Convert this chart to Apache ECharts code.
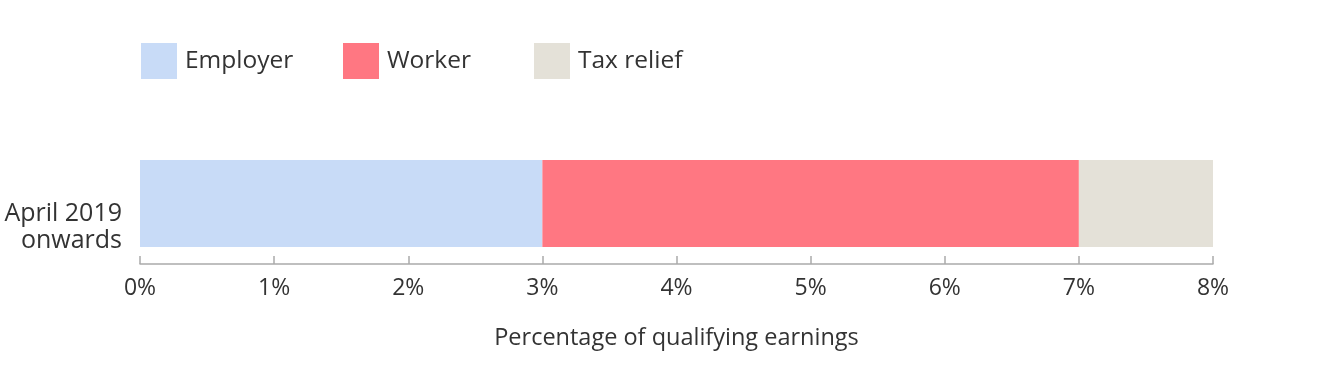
<!DOCTYPE html>
<html><head><meta charset="utf-8">
<script src="https://cdn.jsdelivr.net/npm/echarts@6/dist/echarts.min.js"></script>
<style>html,body{margin:0;padding:0;background:#fff}#c{width:1320px;height:381px}</style>
</head><body><div id="c"></div>
<script>
const categories = ['April 2019\nonwards'];
const seriesNames = ['Employer', 'Worker', 'Tax relief'];
const employer = [3];
const worker = [4];
const taxRelief = [1];
const colors = ['#c8dbf7', '#ff7782', '#e4e1d8'];
const xTicks = [0, 1, 2, 3, 4, 5, 6, 7, 8];
const axisName = 'Percentage of qualifying earnings';

const font = '"Open Sans", Lato, sans-serif';
const chart = echarts.init(document.getElementById('c'));
const legendBase = {
  top: 43, padding: 0, itemWidth: 36, itemHeight: 36, itemGap: 0, icon: 'rect',
  textStyle: { fontSize: 24.5, color: '#333', fontFamily: font, padding: [8, 0, 0, 3] },
  selectedMode: false
};
chart.setOption({
  animation: false,
  legend: [
    Object.assign({ left: 141, data: [seriesNames[0]] }, legendBase),
    Object.assign({ left: 343, data: [seriesNames[1]] }, legendBase),
    Object.assign({ left: 534, data: [seriesNames[2]] }, legendBase)
  ],
  grid: { left: 140, right: 107, top: 160, height: 87, containLabel: false },
  xAxis: {
    type: 'value', min: xTicks[0], max: xTicks[xTicks.length - 1], interval: 1,
    offset: 17,
    name: axisName, nameLocation: 'middle', nameGap: 62,
    nameTextStyle: { fontSize: 23.5, color: '#333', fontFamily: font },
    axisLine: { show: true, lineStyle: { color: '#aaa', width: 1.5 } },
    axisTick: { show: true, inside: true, length: 8, lineStyle: { color: '#aaa', width: 1.5 } },
    splitLine: { show: false },
    axisLabel: { fontSize: 23, color: '#333', fontFamily: font, margin: 13,
      formatter: v => v + '%' }
  },
  yAxis: {
    type: 'category', data: categories,
    axisLine: { show: false }, axisTick: { show: false },
    axisLabel: {
      align: 'right', margin: 18, verticalAlign: 'middle',
      formatter: v => '{s| }\n' + v.split('\n').map(l => '{b|' + l + '}').join('\n'),
      rich: {
        s: { fontSize: 10, lineHeight: 48 },
        b: { fontSize: 25, lineHeight: 27, color: '#333', fontFamily: font, align: 'right' }
      }
    }
  },
  series: [
    { name: seriesNames[0], type: 'bar', stack: 't', data: employer, barWidth: '100%', itemStyle: { color: colors[0] } },
    { name: seriesNames[1], type: 'bar', stack: 't', data: worker, barWidth: '100%', itemStyle: { color: colors[1] } },
    { name: seriesNames[2], type: 'bar', stack: 't', data: taxRelief, barWidth: '100%', itemStyle: { color: colors[2] } }
  ]
});
</script></body></html>
